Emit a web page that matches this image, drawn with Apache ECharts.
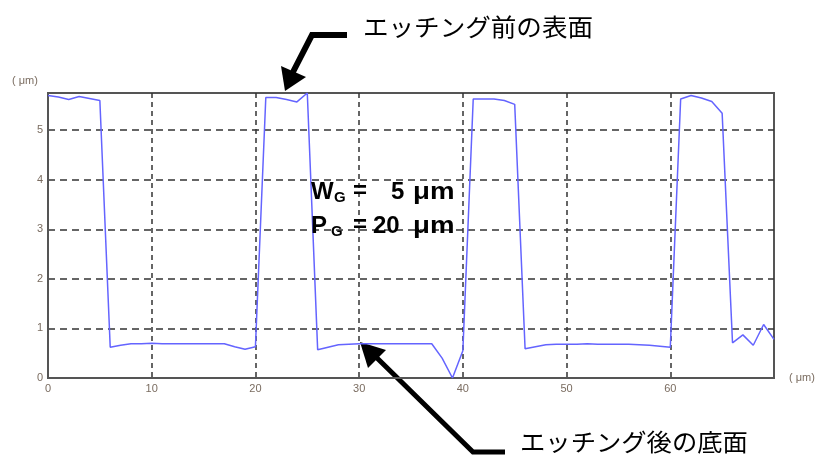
<!DOCTYPE html>
<html>
<head>
<meta charset="UTF-8">
<title>エッチング断面プロファイル</title>
<style>
body {
    margin: 0;
    padding: 0;
    background: #fff;
}
#main {
    width: 826px;
    height: 456px;
}
</style>
</head>
<body>
<div id="main"></div>
<script src="https://cdn.jsdelivr.net/npm/echarts@6/dist/echarts.min.js"></script>
<script>
// 測定位置 (μm)
var positions = [0, 1, 2, 3, 4, 5, 6, 7, 8, 9,
    10, 11, 12, 13, 14, 15, 16, 17, 18, 19,
    20, 21, 22, 23, 24, 25, 26, 27, 28, 29,
    30, 31, 32, 33, 34, 35, 36, 37, 38, 39,
    40, 41, 42, 43, 44, 45, 46, 47, 48, 49,
    50, 51, 52, 53, 54, 55, 56, 57, 58, 59,
    60, 61, 62, 63, 64, 65, 66, 67, 68, 69, 70];
// 高さ (μm)
var heights = [5.70, 5.67, 5.62, 5.68, 5.64, 5.60, 0.62, 0.66, 0.69, 0.69,
    0.70, 0.69, 0.69, 0.69, 0.69, 0.69, 0.69, 0.69, 0.63, 0.58,
    0.63, 5.66, 5.66, 5.62, 5.57, 5.75, 0.57, 0.62, 0.67, 0.68,
    0.69, 0.69, 0.69, 0.69, 0.69, 0.69, 0.69, 0.69, 0.40, 0.00,
    0.55, 5.63, 5.63, 5.63, 5.60, 5.52, 0.59, 0.63, 0.67, 0.68,
    0.68, 0.68, 0.69, 0.68, 0.68, 0.68, 0.68, 0.67, 0.66, 0.64,
    0.62, 5.63, 5.70, 5.65, 5.58, 5.34, 0.71, 0.87, 0.66, 1.08, 0.78];
var xTicks = [0, 10, 20, 30, 40, 50, 60];
var yTicks = [0, 1, 2, 3, 4, 5];

var labelColor = '#7a6c60';
var points = [];
for (var i = 0; i < positions.length; i++) {
    points.push([positions[i], heights[i]]);
}

var chart = echarts.init(document.getElementById('main'));

var bigFont = 'bold 24px "Liberation Sans"';
var subFont = 'bold 15px "Liberation Sans"';
var jpFont = '24px "Noto Sans CJK JP"';

var option = {
    animation: false,
    grid: {
        left: 48,
        right: 52,
        top: 93,
        bottom: 78,
        show: true,
        borderColor: '#555',
        borderWidth: 2
    },
    xAxis: {
        type: 'value',
        min: 0,
        max: 70,
        interval: 10,
        axisLine: { show: true, lineStyle: { color: '#555', width: 2 } },
        axisTick: { show: false },
        axisLabel: {
            margin: 5,
            fontSize: 11,
            color: labelColor,
            formatter: function (v) { return xTicks.indexOf(v) >= 0 ? String(v) : ''; }
        },
        splitLine: {
            show: true,
            showMinLine: false,
            showMaxLine: false,
            lineStyle: { color: '#333', width: 1.5, type: [5, 4] }
        }
    },
    yAxis: {
        type: 'value',
        min: 0,
        max: 5.75,
        interval: 1,
        axisLine: { show: true, lineStyle: { color: '#555', width: 2 } },
        axisTick: { show: false },
        axisLabel: {
            margin: 5,
            fontSize: 11,
            color: labelColor,
            formatter: function (v) { return yTicks.indexOf(v) >= 0 ? String(v) : ''; }
        },
        splitLine: {
            show: true,
            showMinLine: false,
            showMaxLine: false,
            lineStyle: { color: '#333', width: 1.5, type: [7, 5] }
        }
    },
    series: [{
        type: 'line',
        data: points,
        showSymbol: false,
        lineStyle: { color: '#6464ff', width: 1.5 },
        z: 5
    }],
    graphic: [
        // 単位
        { type: 'text', left: 12, top: 75, style: { text: '( μm)', fontSize: 11, fill: labelColor } },
        { type: 'text', left: 789, top: 372, style: { text: '( μm)', fontSize: 11, fill: labelColor } },
        // 上の矢印
        { type: 'polyline', shape: { points: [[347, 35], [312, 35], [293, 72]] },
          style: { stroke: '#000', lineWidth: 6, fill: null, lineJoin: 'miter' } },
        { type: 'polygon', shape: { points: [[285, 91], [281, 66], [306, 77]] }, style: { fill: '#000' } },
        { type: 'text', x: 363, y: 27, scaleX: 1.065,
          style: { text: 'エッチング前の表面', font: jpFont, fill: '#000', verticalAlign: 'middle' } },
        // 下の矢印
        { type: 'polyline', shape: { points: [[505, 452], [473, 452], [376, 357]] },
          style: { stroke: '#000', lineWidth: 5, fill: null, lineJoin: 'miter' } },
        { type: 'polygon', shape: { points: [[360, 342], [386, 350], [368, 368]] }, style: { fill: '#000' } },
        { type: 'text', x: 520, y: 442, scaleX: 1.055,
          style: { text: 'エッチング後の底面', font: jpFont, fill: '#000', verticalAlign: 'middle' } },
        // WG / PG
        { type: 'text', x: 311, y: 192, z: 10,
          style: { text: 'W', font: bigFont, fill: '#000', verticalAlign: 'middle' } },
        { type: 'text', x: 334, y: 198, z: 10,
          style: { text: 'G', font: subFont, fill: '#000', verticalAlign: 'middle' } },
        { type: 'text', x: 353, y: 191, z: 10,
          style: { text: '=', font: bigFont, fill: '#000', verticalAlign: 'middle' } },
        { type: 'text', x: 391, y: 192, z: 10,
          style: { text: '5', font: bigFont, fill: '#000', verticalAlign: 'middle' } },
        { type: 'text', x: 413, y: 192, z: 10, scaleX: 1.15,
          style: { text: 'μm', font: bigFont, fill: '#000', verticalAlign: 'middle' } },
        { type: 'text', x: 311, y: 226, z: 10,
          style: { text: 'P', font: bigFont, fill: '#000', verticalAlign: 'middle' } },
        { type: 'text', x: 331, y: 232, z: 10,
          style: { text: 'G', font: subFont, fill: '#000', verticalAlign: 'middle' } },
        { type: 'text', x: 353, y: 225, z: 10,
          style: { text: '=', font: bigFont, fill: '#000', verticalAlign: 'middle' } },
        { type: 'text', x: 373, y: 226, z: 10,
          style: { text: '20', font: bigFont, fill: '#000', verticalAlign: 'middle' } },
        { type: 'text', x: 413, y: 226, z: 10, scaleX: 1.15,
          style: { text: 'μm', font: bigFont, fill: '#000', verticalAlign: 'middle' } }
    ]
};
chart.setOption(option);
</script>
</body>
</html>
